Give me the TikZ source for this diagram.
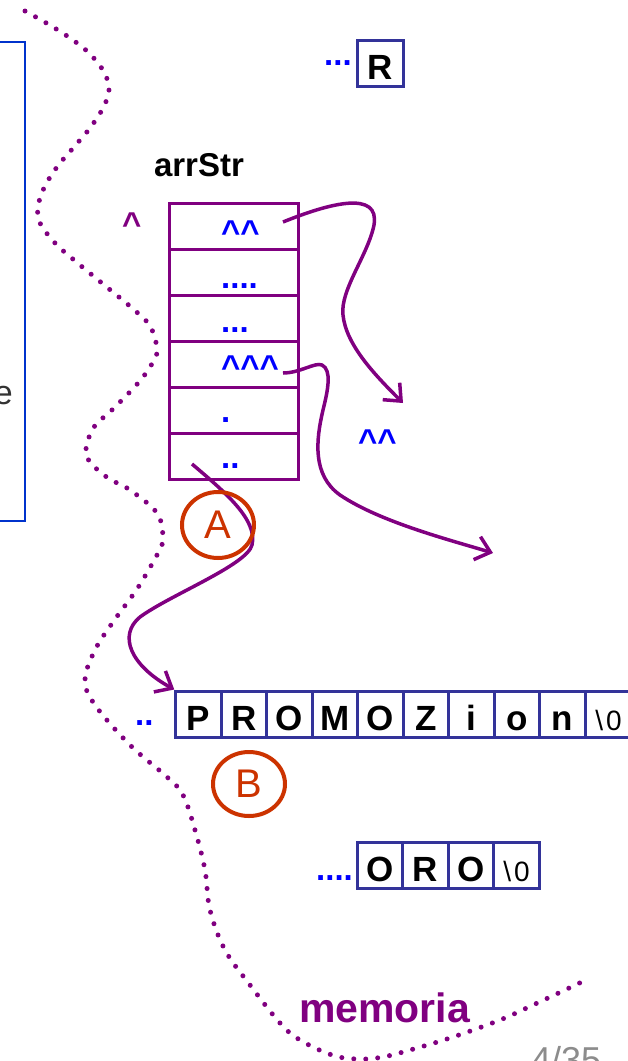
\documentclass[tikz,border=0pt]{standalone}
\usepackage{fontspec}
\setmainfont{Liberation Sans}
\usetikzlibrary{shapes.geometric,arrows.meta}
\definecolor{memviolet}{RGB}{128,0,128}
\definecolor{ptrblue}{RGB}{0,0,255}
\definecolor{cellnavy}{RGB}{51,51,153}
\definecolor{tagred}{RGB}{204,51,0}
\definecolor{sideblue}{RGB}{0,51,204}
\definecolor{pagegray}{RGB}{140,140,140}
\newcommand{\crt}{\textasciicircum}

\begin{document}
\begin{tikzpicture}[x=1pt,y=-1pt,
        arr cell/.style={draw=memviolet,line width=3pt,minimum width=129pt,minimum height=46pt,inner sep=0pt},
        chr cell/.style={draw=cellnavy,line width=3pt,minimum width=45.5pt,minimum height=46pt,inner sep=0pt,text height=32pt,text depth=0pt,font=\fontsize{35}{35}\selectfont\bfseries},
        nul cell/.style={chr cell,font=\fontsize{28}{28}\selectfont},
        ptr text/.style={anchor=base west,inner sep=0pt,text=ptrblue,font=\fontsize{33}{33}\selectfont\bfseries},
        ptr arrow/.style={draw=memviolet,line width=3.5pt,-{Straight Barb[length=14pt,width=24pt]}},
        tag node/.style={ellipse,draw=tagred,line width=4pt,text=tagred,minimum width=72pt,minimum height=66pt,inner sep=0pt,font=\fontsize{40}{40}\selectfont}]
        \useasboundingbox (0,0) rectangle (628,1061);

        \draw[memviolet,line width=5pt,line cap=round,dash pattern=on 0pt off 12pt] plot[smooth,tension=0.6] coordinates {
            (25,11) (48,24) (70,38) (89,53) (104,72) (109,90) (103,108) (90,128) (74,147) (57,167)
            (44,188) (38,207) (40,223) (55,243) (74,260) (103,284) (132,308) (150,326) (157,349)
            (153,362) (139,382) (113,409) (94,427) (86,449) (90,462) (108,478) (130,490) (157,513)
            (163,537) (160,549) (148,571) (135,592) (113,622) (95,650) (85,680) (95,705) (130,745)
            (167,777) (183,795) (195,830) (205,870) (210,910) (225,950) (250,985) (280,1023)
            (300,1040) (332,1055) (357,1059) (383,1057) (417,1048) (453,1037) (500,1020)
            (533,1005) (567,989) (590,978)};

        \draw[sideblue,line width=2pt] (-5,42) rectangle (25,521);
        \node[anchor=base east,inner sep=0pt,text=black!80,font=\fontsize{34}{34}\selectfont] at (13,404) (cut) {e};

        \node[ptr text] at (324,65) (rdots) {...};
        \node[chr cell] at (380.3,63.5) (rr) {R};

        \node[anchor=base,inner sep=0pt,font=\fontsize{33}{33}\selectfont\bfseries] at (199,176) (name) {arrStr};
        \node[ptr text,text=memviolet] at (122,235) (hat) {\crt};

        \foreach \i in {1,...,6}
            \node[arr cell] at (233.5,180+46*\i) (r\i) {};
        \node[ptr text] at (221,243) (v1) {\crt\crt};
        \node[ptr text] at (221,288) (v2) {....};
        \node[ptr text] at (221,332) (v3) {...};
        \node[ptr text] at (221,378) (v4) {\crt\crt\crt};
        \node[ptr text] at (221,422) (v5) {.};
        \node[ptr text] at (221,468) (v6) {..};

        \node[ptr text] at (358,452.6) (hh) {\crt\crt};

        \node[ptr text] at (135,725) (pdots) {..};
        \foreach \ch [count=\i] in {P,R,O,M,O,Z,i,o,n}
            \node[chr cell] at (153+45.5*\i,714) (p\i) {\ch};
        \node[nul cell] at (608.5,714) (p10) {\textbackslash\kern3pt 0};

        \node[ptr text] at (316,880) (odots) {....};
        \foreach \ch [count=\i] in {O,R,O}
            \node[chr cell] at (334.5+45.5*\i,865.5) (o\i) {\ch};
        \node[nul cell] at (516.5,865.5) (o4) {\textbackslash\kern3pt 0};

        \coordinate (s1) at (283,222);
        \coordinate (s2) at (283,373);
        \coordinate (s3) at (192,464);
        \coordinate (e1) at (403,403);
        \coordinate (e2) at (493,553);

        \draw[ptr arrow] (s1) .. controls (330,203) and (380,190) .. (374,225)
            .. controls (368,255) and (340,290) .. (343,315)
            .. controls (346,345) and (375,375) .. (e1);
        \draw[ptr arrow] (s2) .. controls (300,373) and (315,362) .. (322,365)
            .. controls (332,370) and (328,390) .. (323,410)
            .. controls (316,440) and (312,475) .. (340,495)
            .. controls (380,522) and (450,540) .. (e2);
        \draw[ptr arrow] (s3) .. controls (225,492) and (258,520) .. (252,545)
            .. controls (247,565) and (170,595) .. (140,617)
            .. controls (118,635) and (130,665) .. (p1.north west);

        \node[tag node] at (218,525) (ta) {A};
        \node[tag node,minimum height=64pt] at (249,784) (tb) {B};

        \node[anchor=base west,inner sep=0pt,text=memviolet,font=\fontsize{41}{41}\selectfont\bfseries] at (299,1022) (mem) {memoria};
        \node[anchor=base west,inner sep=0pt,text=pagegray,font=\fontsize{36}{36}\selectfont] at (531,1072) (page) {4/35};
\end{tikzpicture}
\end{document}
